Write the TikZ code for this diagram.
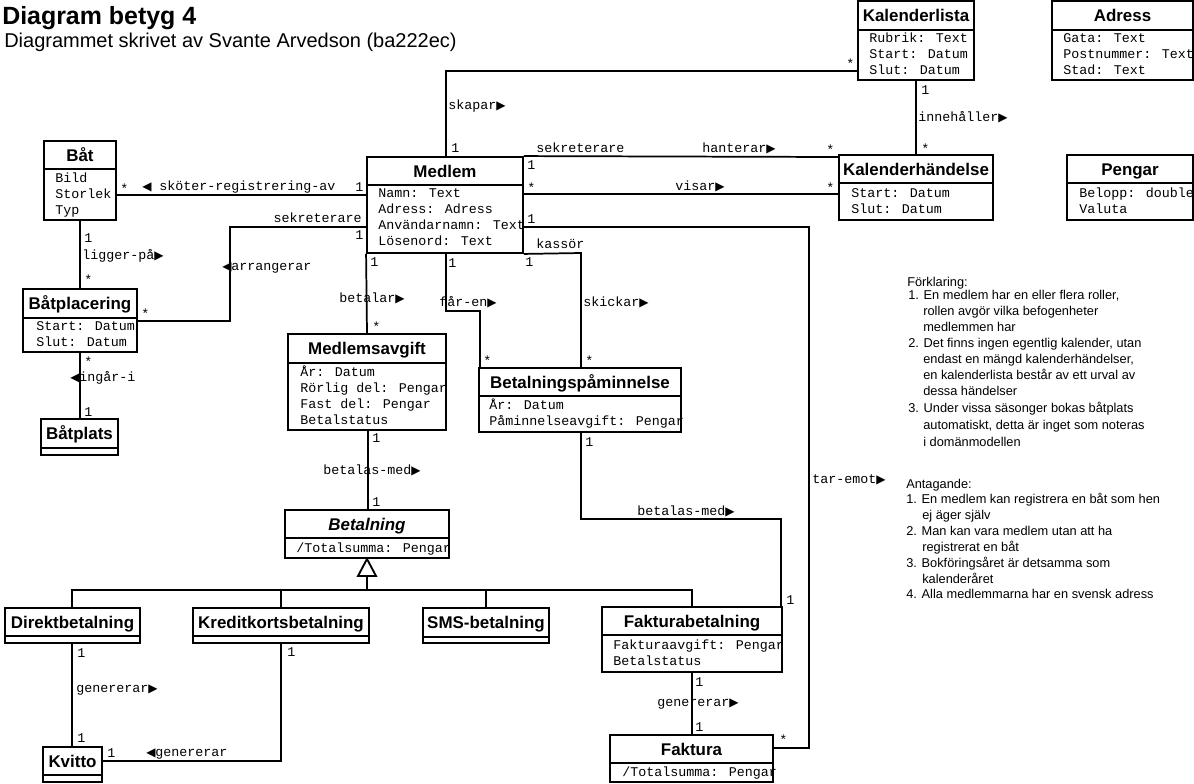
\documentclass[tikz,border=0pt]{standalone}
\usepackage{fontspec}
\setmainfont{Liberation Sans}
\newfontfamily\monof{Liberation Mono}
\newfontfamily\symf{DejaVu Sans}
\usetikzlibrary{fit,calc}

% reading-direction triangles for association names
\newcommand{\rtri}{{\symf\fontsize{9}{9}\selectfont ▶}}
\newcommand{\ltri}{{\symf\fontsize{9}{9}\selectfont ◀}}

\tikzset{
  classbox/.style={draw, line width=1.4pt, inner sep=0pt},
  divline/.style={line width=1.4pt},
  clsname/.style={font=\bfseries\fontsize{12.7}{14}\selectfont, inner sep=0pt, text height=9.1pt, text depth=0pt},
  attr/.style={font=\monof\fontsize{10}{12}\selectfont, inner sep=0pt, anchor=base west},
  lbl/.style={attr},
  assoc/.style={line width=1.3pt},
  note/.style={font=\fontsize{9.6}{12}\selectfont, inner sep=0pt, anchor=base west},
}

% class box: name, x1, y1, x2, divider y, y2, title
\newcommand{\umlclass}[7]{%
  \node[classbox, fit={(#2,#3) (#4,#6)}] (#1) {};
  \draw[divline] (#2,#5) -- (#4,#5);
  \node[clsname] (#1-name) at ({(#2+#4)/2},{(#3+#5)/2}) {#7};
}
% attribute lines: name, x, first baseline, list
\newcommand{\umlattrs}[4]{%
  \foreach \attrtext [count=\k] in {#4}{
    \node[attr] (#1-a\k) at (#2,{#3+16*(\k-1)}) {\attrtext};
  }
}

\begin{document}
\begin{tikzpicture}[x=0.75pt, y=-0.75pt]
\fill[white] (0,0) rectangle (1194,783);
\useasboundingbox (0,0) rectangle (1194,783);

% heading
\node[font=\bfseries\fontsize{18.7}{22}\selectfont, inner sep=0pt, anchor=base west] (title) at (2,24) {Diagram betyg 4};
\node[font=\fontsize{15}{18}\selectfont, inner sep=0pt, anchor=base west] (subtitle) at (4,47) {Diagrammet skrivet av Svante Arvedson (ba222ec)};

% classes
\umlclass{kallista}{858}{1}{974}{30}{80}{Kalenderlista}
\umlattrs{kallista}{869}{42}{Rubrik: Text, Start: Datum, Slut: Datum}
\umlclass{adress}{1052}{1}{1193}{30}{80}{Adress}
\umlattrs{adress}{1063}{42}{Gata: Text, Postnummer: Text, Stad: Text}
\umlclass{medlem}{367}{157}{523}{185}{253}{Medlem}
\umlattrs{medlem}{378}{197}{Namn: Text, Adress: Adress, Användarnamn: Text, Lösenord: Text}
\umlclass{kalhand}{839}{155}{993}{183}{220}{Kalenderhändelse}
\umlattrs{kalhand}{851}{197}{Start: Datum, Slut: Datum}
\umlclass{pengar}{1067}{155}{1193}{183}{220}{Pengar}
\umlattrs{pengar}{1079}{197}{Belopp: double, Valuta}
\umlclass{bat}{44}{141}{116}{169}{220}{Båt}
\umlattrs{bat}{55}{182}{Bild, Storlek, Typ}
\umlclass{batplac}{23}{289}{137}{318}{352}{Båtplacering}
\umlattrs{batplac}{36}{330}{Start: Datum, Slut: Datum}
\umlclass{batplats}{41}{419}{118}{448}{455}{Båtplats}
\umlclass{medlemsavg}{288}{334}{446}{363}{430}{Medlemsavgift}
\umlattrs{medlemsavg}{300}{376}{År: Datum, Rörlig del: Pengar, Fast del: Pengar, Betalstatus}
\umlclass{bpam}{479}{368}{681}{396}{432}{Betalningspåminnelse}
\umlattrs{bpam}{489}{409}{År: Datum, Påminnelseavgift: Pengar}
\umlclass{betalning}{285}{510}{449}{538}{558}{\itshape Betalning}
\umlattrs{betalning}{296}{552}{/Totalsumma: Pengar}
\umlclass{direkt}{5}{608}{140}{636}{643}{Direktbetalning}
\umlclass{kredit}{193}{608}{369}{636}{643}{Kreditkortsbetalning}
\umlclass{sms}{423}{608}{549}{637}{643}{SMS-betalning}
\umlclass{fakbet}{602}{607}{782}{635}{672}{Fakturabetalning}
\umlattrs{fakbet}{613}{649}{Fakturaavgift: Pengar, Betalstatus}
\umlclass{kvitto}{43}{747}{102}{775}{782}{Kvitto}
\umlclass{faktura}{610}{735}{773}{763}{782}{Faktura}
\umlattrs{faktura}{622}{776}{/Totalsumma: Pengar}

% associations
\draw[assoc] (446,0 |- medlem.north) |- (kallista.west |- 0,71);
\draw[assoc] (medlem.north east) -- (kalhand.west |- 0,157);
\draw[assoc] (medlem.east |- 0,194) -- (kalhand.west |- 0,194);
\draw[assoc] (medlem.east |- 0,227) -| (809,748) -- (faktura.east |- 0,748);
\draw[assoc] (bat.east |- 0,195) -- (medlem.west |- 0,195);
\draw[assoc] (medlem.west |- 0,227) -| (230,321) -- (batplac.east |- 0,321);
\draw[assoc] (80,0 |- bat.south) -- (80,0 |- batplac.north);
\draw[assoc] (80,0 |- batplac.south) -- (80,0 |- batplats.north);
\draw[assoc] (medlem.south west) -- (367,0 |- medlemsavg.north);
\draw[assoc] (446,0 |- medlem.south) |- (480,311) -- (480,0 |- bpam.north);
\draw[assoc] (medlem.south east) -- (581,253) -- (581,0 |- bpam.north);
\draw[assoc] (581,0 |- bpam.south) |- (781,519) -- (781,0 |- fakbet.north);
\draw[assoc] (368,0 |- medlemsavg.south) -- (368,0 |- betalning.north);
\draw[assoc] (72,0 |- direkt.south) -- (72,0 |- kvitto.north);
\draw[assoc] (281,0 |- kredit.south) |- (kvitto.east |- 0,761);
\draw[assoc] (692,0 |- fakbet.south) -- (692,0 |- faktura.north);
\draw[assoc] (916,0 |- kallista.south) -- (916,0 |- kalhand.north);

% generalization of Betalning
\coordinate (genbase) at (367,576);
\draw[line width=2pt] (genbase) -- (367,590);
\draw[assoc] (72,0 |- direkt.north) |- (692,590) -- (692,0 |- fakbet.north);
\draw[assoc] (281,0 |- kredit.north) -- (281,590);
\draw[assoc] (486,0 |- sms.north) -- (486,590);
\draw[line width=1.4pt, fill=white, line join=miter] (betalning.south) -- (376,576) -- (358,576) -- cycle;

% association labels and multiplicities
\node[lbl] (l-skapar) at (448,109) {skapar\rtri};
\node[lbl] (m-skapar1) at (451,152) {1};
\node[lbl] (m-skapar2) at (846,68) {*};
\node[lbl] (r-sek1) at (536,152) {sekreterare};
\node[lbl] (m-han1) at (527,169) {1};
\node[lbl] (l-han) at (702,152) {hanterar\rtri};
\node[lbl] (m-han2) at (826,154) {*};
\node[lbl] (m-vis1) at (527,192) {*};
\node[lbl] (l-vis) at (675,190) {visar\rtri};
\node[lbl] (m-vis2) at (826,192) {*};
\node[lbl] (m-tar1) at (527,223) {1};
\node[lbl] (l-tar) at (812,483) {tar-emot\rtri};
\node[lbl] (m-tar2) at (779,744) {*};
\node[lbl] (r-kassor) at (536,248) {kassör};
\node[lbl] (m-bet1) at (370,266) {1};
\node[lbl] (m-far1) at (448,267) {1};
\node[lbl] (m-ski1) at (525,266) {1};
\node[lbl] (l-bet) at (339,302) {betalar\rtri};
\node[lbl] (l-far) at (439,306) {får-en\rtri};
\node[lbl] (l-ski) at (583,306) {skickar\rtri};
\node[lbl] (m-bet2) at (372,331) {*};
\node[lbl] (m-far2) at (483,365) {*};
\node[lbl] (m-ski2) at (585,365) {*};
\node[lbl] (m-sko1) at (120,193) {*};
\node[lbl] (l-sko) at (142,190) {\ltri{} sköter-registrering-av};
\node[lbl] (m-sko2) at (355,191) {1};
\node[lbl, anchor=base east] (r-sek2) at (362,222) {sekreterare};
\node[lbl] (m-arr1) at (355,239) {1};
\node[lbl] (l-arr) at (222,270) {\ltri arrangerar};
\node[lbl] (m-arr2) at (141,318) {*};
\node[lbl] (m-lig1) at (84,242) {1};
\node[lbl] (l-lig) at (82,259) {ligger-på\rtri};
\node[lbl] (m-lig2) at (84,284) {*};
\node[lbl] (m-ing1) at (84,366) {*};
\node[lbl] (l-ing) at (70,381) {\ltri ingår-i};
\node[lbl] (m-ing2) at (84,416) {1};
\node[lbl] (m-bm1) at (372,442) {1};
\node[lbl] (l-bm) at (323,474) {betalas-med\rtri};
\node[lbl] (m-bm2) at (372,506) {1};
\node[lbl] (m-bp1) at (585,446) {1};
\node[lbl] (l-bp) at (637,515) {betalas-med\rtri};
\node[lbl] (m-bp2) at (786,604) {1};
\node[lbl] (m-gf1) at (695,686) {1};
\node[lbl] (l-gf) at (657,706) {genererar\rtri};
\node[lbl] (m-gf2) at (695,731) {1};
\node[lbl] (m-gd1) at (77,657) {1};
\node[lbl] (l-gd) at (76,692) {genererar\rtri};
\node[lbl] (m-gd2) at (77,742) {1};
\node[lbl] (m-gk1) at (287,656) {1};
\node[lbl] (l-gk) at (146,756) {\ltri genererar};
\node[lbl] (m-gk2) at (107,757) {1};
\node[lbl] (m-inn1) at (921,94) {1};
\node[lbl] (l-inn) at (918,121) {innehåller\rtri};
\node[lbl] (m-inn2) at (921,153) {*};

% explanations and assumptions
\node[note] (n1) at (907,286) {Förklaring:};
\node[note] (n2) at (908,299) {1. En medlem har en eller flera roller,};
\node[note] (n3) at (923,315) {rollen avgör vilka befogenheter};
\node[note] (n4) at (923,331) {medlemmen har};
\node[note] (n5) at (908,347) {2. Det finns ingen egentlig kalender, utan};
\node[note] (n6) at (923,363) {endast en mängd kalenderhändelser,};
\node[note] (n7) at (923,379) {en kalenderlista består av ett urval av};
\node[note] (n8) at (923,395) {dessa händelser};
\node[note] (n9) at (908,412) {3. Under vissa säsonger bokas båtplats};
\node[note] (n10) at (923,429) {automatiskt, detta är inget som noteras};
\node[note] (n11) at (923,446) {i domänmodellen};
\node[note] (a1) at (906,488) {Antagande:};
\node[note] (a2) at (906,503) {1. En medlem kan registrera en båt som hen};
\node[note] (a3) at (922,519) {ej äger själv};
\node[note] (a4) at (906,535) {2. Man kan vara medlem utan att ha};
\node[note] (a5) at (922,551) {registrerat en båt};
\node[note] (a6) at (906,567) {3. Bokföringsåret är detsamma som};
\node[note] (a7) at (922,583) {kalenderåret};
\node[note] (a8) at (906,598) {4. Alla medlemmarna har en svensk adress};
\end{tikzpicture}
\end{document}
